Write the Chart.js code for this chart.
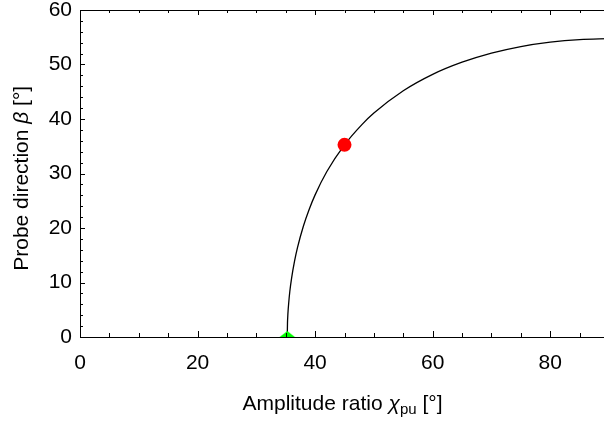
<!DOCTYPE html>
<html>
<head>
<meta charset="utf-8">
<script src="https://cdn.jsdelivr.net/npm/chart.js@4/dist/chart.umd.min.js"></script>
<style>
html,body{margin:0;padding:0;overflow:hidden;background:#fff;}
canvas{display:block;}
</style>
</head>
<body>
<canvas id="c" width="609" height="421"></canvas>
<script>
// Curve: amplitude ratio chi_pu [deg] vs probe direction beta [deg]
const chiValues  = [35.26, 35.3, 35.35, 35.4, 35.5, 35.7, 36, 36.5, 37, 38, 39, 40, 42, 45, 48, 50, 55, 60, 65, 70, 75, 80, 85, 90];
const betaValues = [0, 2.55, 3.81, 4.75, 6.15, 8.40, 10.82, 13.91, 16.39, 20.32, 23.45, 26.08, 30.36, 35.26, 39.02, 41.09, 45.18, 48.19, 50.42, 52.09, 53.30, 54.11, 54.58, 54.74];
// Marked points
const redPoint   = [45, 35.26];
const greenPoint = [35.26, 0];
// Axis ticks
const xTickLabels = [0, 20, 40, 60, 80];
const yTickLabels = [0, 10, 20, 30, 40, 50, 60];
const xMinorTicks = [0,5,10,15,20,25,30,35,40,45,50,55,60,65,70,75,80,85,90];
const yMinorTicks = [0,2,4,6,8,10,12,14,16,18,20,22,24,26,28,30,32,34,36,38,40,42,44,46,48,50,52,54,56,58,60];

const FONT = "'Liberation Sans', Arial, sans-serif";

// flattened triangle marker
const tri = document.createElement('canvas');
tri.width = 18; tri.height = 14;
(function(){
  const g = tri.getContext('2d');
  g.fillStyle = '#00ff00';
  g.beginPath();
  g.moveTo(0.5, 7.8);
  g.lineTo(9, 1.0);
  g.lineTo(17.5, 7.8);
  g.closePath();
  g.fill();
})();

const zeroPad = s => { s.paddingLeft = 0; s.paddingRight = 0; s.paddingTop = 0; s.paddingBottom = 0; };

const frameTicks = {
  id: 'frameTicks',
  afterDraw(chart) {
    const ctx = chart.ctx, a = chart.chartArea;
    const xs = chart.scales.x, ys = chart.scales.y;
    ctx.save();
    ctx.strokeStyle = '#000';
    ctx.lineWidth = 1;
    ctx.beginPath();
    ctx.moveTo(a.left, a.top + 0.5);
    ctx.lineTo(a.right, a.top + 0.5);
    ctx.stroke();
    ctx.beginPath();
    xMinorTicks.forEach(v => {
      const px = Math.round(xs.getPixelForValue(v)) + 0.5;
      const major = v % 20 === 0;
      ctx.moveTo(px, a.bottom);
      ctx.lineTo(px, a.bottom - (major ? 6 : 4));
      ctx.moveTo(px, a.top);
      ctx.lineTo(px, a.top + (major ? 5 : 3));
    });
    yMinorTicks.forEach(v => {
      const py = Math.round(ys.getPixelForValue(v)) + 0.5;
      const major = v % 10 === 0;
      ctx.moveTo(a.left, py);
      ctx.lineTo(a.left + (major ? 5 : 3), py);
      ctx.moveTo(a.right, py);
      ctx.lineTo(a.right - (major ? 5 : 3), py);
    });
    ctx.stroke();

    ctx.fillStyle = '#000';
    ctx.textBaseline = 'alphabetic';
    const parts = [
      {t: 'Amplitude ratio ', f: '21px ' + FONT, dy: 0},
      {t: '\u03C7', f: 'italic 21px ' + FONT, dy: 0},
      {t: 'pu', f: '15px ' + FONT, dy: 4},
      {t: ' [\u00B0]', f: '21px ' + FONT, dy: 0}
    ];
    let total = 0;
    parts.forEach(p => { ctx.font = p.f; p.w = ctx.measureText(p.t).width; total += p.w; });
    let x = 342.5 - total / 2;
    const by = 409.5;
    ctx.textAlign = 'left';
    parts.forEach(p => { ctx.font = p.f; ctx.fillText(p.t, x, by + p.dy); x += p.w; });

    const yparts = [
      {t: 'Probe direction ', f: '21px ' + FONT},
      {t: '\u03B2', f: 'italic 21px ' + FONT},
      {t: ' [\u00B0]', f: '21px ' + FONT}
    ];
    let ytot = 0;
    yparts.forEach(p => { ctx.font = p.f; p.w = ctx.measureText(p.t).width; ytot += p.w; });
    ctx.translate(27.5, 178.3);
    ctx.rotate(-Math.PI / 2);
    let yx = -ytot / 2;
    yparts.forEach(p => { ctx.font = p.f; ctx.fillText(p.t, yx, 0); yx += p.w; });
    ctx.restore();
  }
};

new Chart(document.getElementById('c'), {
  type: 'line',
  data: {
    datasets: [
      {
        data: [{x: greenPoint[0], y: greenPoint[1]}],
        pointStyle: tri,
        pointRadius: 9,
        showLine: false,
        order: 0
      },
      {
        data: [{x: redPoint[0], y: redPoint[1]}],
        pointStyle: 'circle',
        pointRadius: 7,
        pointBackgroundColor: '#ff0000',
        pointBorderColor: '#ff0000',
        pointBorderWidth: 0,
        showLine: false,
        order: 1
      },
      {
        data: chiValues.map((v, i) => ({x: v, y: betaValues[i]})),
        borderColor: '#000',
        borderWidth: 1.3,
        pointRadius: 0,
        cubicInterpolationMode: 'monotone',
        fill: false,
        order: 2
      }
    ]
  },
  options: {
    responsive: false,
    animation: false,
    events: [],
    layout: {autoPadding: false, padding: {top: 10, left: 0, right: 0, bottom: 0}},
    plugins: {legend: {display: false}, tooltip: {enabled: false}},
    scales: {
      x: {
        type: 'linear',
        min: 0, max: 90,
        grid: {display: false, drawTicks: false},
        border: {display: true, color: '#000', width: 1},
        afterBuildTicks: s => { s.ticks = xTickLabels.map(v => ({value: v})); },
        afterFit: s => { s.height = 84; zeroPad(s); },
        ticks: {color: '#000', font: {family: FONT, size: 21}, padding: 14, maxRotation: 0, autoSkip: false}
      },
      y: {
        type: 'linear',
        min: 0, max: 60,
        grid: {display: false, drawTicks: false},
        border: {display: true, color: '#000', width: 1},
        afterBuildTicks: s => { s.ticks = yTickLabels.map(v => ({value: v})); },
        afterFit: s => { s.width = 80; zeroPad(s); },
        ticks: {color: '#000', font: {family: FONT, size: 21}, padding: 8, autoSkip: false}
      }
    }
  },
  plugins: [frameTicks]
});
</script>
</body>
</html>
